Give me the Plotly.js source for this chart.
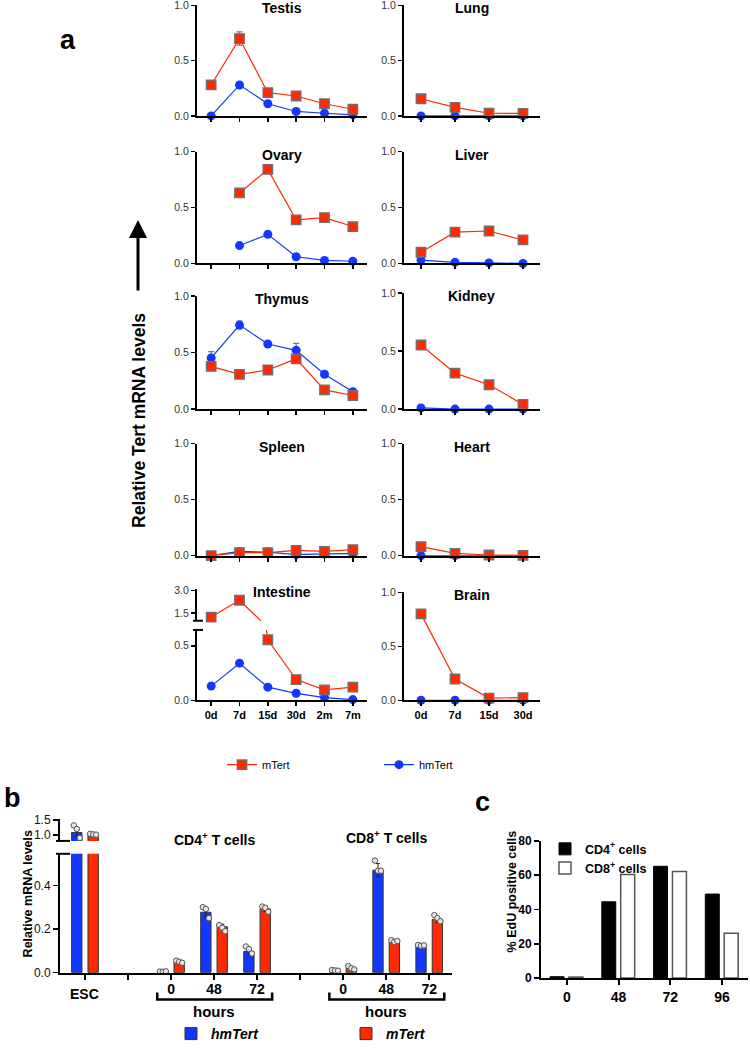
<!DOCTYPE html>
<html>
<head>
<meta charset="utf-8">
<script src="https://cdn.plot.ly/plotly-3.0.1.min.js"></script>
<style>
html, body { margin: 0; padding: 0; background: #fff; overflow: hidden; width: 750px; height: 1050px; }
#chart { position: absolute; left: 0; top: 0; width: 750px; height: 1050px; }
</style>
</head>
<body>
<div id="chart"></div>
<script>
// ---- panel a: relative Tert mRNA by tissue and age ----
const AGES_LONG = ['0d', '7d', '15d', '30d', '2m', '7m'];
const AGES_SHORT = ['0d', '7d', '15d', '30d'];

const TESTIS_M = [0.28, 0.70, 0.21, 0.18, 0.11, 0.06];
const TESTIS_HM = [0.0, 0.28, 0.11, 0.04, 0.024, 0.01];
const TESTIS_M_ERR = [0, 0.06, 0, 0, 0, 0];
const LUNG_M = [0.155, 0.077, 0.024, 0.022];
const LUNG_HM = [0, 0, 0, 0];
const OVARY_M = [null, 0.63, 0.84, 0.39, 0.41, 0.33];
const OVARY_HM = [null, 0.16, 0.26, 0.06, 0.027, 0.02];
const LIVER_M = [0.10, 0.28, 0.29, 0.21];
const LIVER_HM = [0.03, 0.01, 0.005, 0.0];
const THYMUS_M = [0.378, 0.308, 0.346, 0.445, 0.17, 0.12];
const THYMUS_HM = [0.453, 0.744, 0.576, 0.52, 0.308, 0.154];
const THYMUS_HM_ERR = [0.055, 0.035, 0, 0.062, 0.022, 0];
const KIDNEY_M = [0.553, 0.31, 0.21, 0.04];
const KIDNEY_HM = [0.01, 0.0, 0.0, 0.0];
const SPLEEN_M = [0.0, 0.027, 0.027, 0.047, 0.038, 0.053];
const SPLEEN_HM = [0.0, 0.038, 0.032, 0.01, 0.015, 0.018];
const HEART_M = [0.08, 0.02, 0.006, 0.003];
const HEART_HM = [0, 0, 0, 0];
const INTESTINE_M = [1.24, 2.35, 0.555, 0.19, 0.095, 0.12];
const INTESTINE_HM = [0.13, 0.34, 0.12, 0.064, 0.025, 0.006];
const BRAIN_M = [0.80, 0.197, 0.02, 0.025];
const BRAIN_HM = [0, 0, 0, 0];

// ---- panel b: ESC vs activated T cells ----
const B_CATS = ['ESC', 'gap1', 'CD4 0', 'CD4 48', 'CD4 72', 'gap2', 'CD8 0', 'CD8 48', 'CD8 72'];
const B_TICK_LABELS = ['', '', '0', '48', '72', '', '0', '48', '72'];
const B_SAMPLES = ['ESC', 'CD4 0', 'CD4 48', 'CD4 72', 'CD8 0', 'CD8 48', 'CD8 72'];
const B_HM = [1.08, 0.005, 0.277, 0.097, 0.01, 0.47, 0.123];
const B_M = [1.0, 0.051, 0.21, 0.292, 0.02, 0.142, 0.244];
const B_HM_ERR = [0.16, 0.002, 0.02, 0.014, 0.002, 0.03, 0.003];
const B_M_ERR = [0.015, 0.005, 0.012, 0.011, 0.006, 0.004, 0.014];
const B_HM_REPS = [[1.32, 1.2, 0.9], [0.005, 0.004, 0.006], [0.30, 0.292, 0.25], [0.12, 0.108, 0.088],
  [0.012, 0.01, 0.009], [0.514, 0.467, 0.467], [0.127, 0.123, 0.125]];
const B_M_REPS = [[1.04, 1.02, 1.01], [0.055, 0.05, 0.045], [0.218, 0.206, 0.19], [0.303, 0.297, 0.279],
  [0.03, 0.02, 0.015], [0.149, 0.141, 0.145], [0.264, 0.25, 0.236]];

// ---- panel c: EdU incorporation ----
const C_TIMES = ['0', '48', '72', '96'];
const C_CD4 = [0.8, 44.5, 65.2, 49];
const C_CD8 = [0.6, 60.4, 62.1, 26.2];

const W = 750, H = 1050;
const FONT = '"Liberation Sans", Arial, Helvetica, sans-serif';
const RED = '#ff2a00';
const BLUE = '#1238ff';
const fx = p => p / W;
const fy = p => 1 - p / H;

const layout = {
  width: W, height: H,
  margin: { l: 0, r: 0, t: 0, b: 0 },
  paper_bgcolor: '#fff',
  plot_bgcolor: 'rgba(0,0,0,0)',
  font: { family: FONT, color: '#000' },
  showlegend: true,
  annotations: [],
  shapes: [],
};
const data = [];

function axisBase() {
  return {
    showline: true, linecolor: '#000', linewidth: 2,
    ticks: 'outside', tickcolor: '#000', tickwidth: 1.5, ticklen: 4,
    showgrid: false, zeroline: false, fixedrange: true, ticklabeloverflow: 'allow',
  };
}

function setAxes(n, xpx, ypx, xo, yo) {
  const s = n === 1 ? '' : String(n);
  layout['xaxis' + s] = Object.assign(axisBase(),
    { domain: [fx(xpx[0]), fx(xpx[1])], anchor: 'y' + s }, xo);
  layout['yaxis' + s] = Object.assign(axisBase(),
    { domain: [fy(ypx[1]), fy(ypx[0])], anchor: 'x' + s }, yo);
  return { x: 'x' + s, y: 'y' + s };
}

function breakCap(x0, x1, y) {
  layout.shapes.push({
    type: 'line', xref: 'paper', yref: 'paper',
    x0: fx(x0), x1: fx(x1), y0: fy(y), y1: fy(y),
    line: { color: '#000', width: 2 },
  });
}

function label(text, x, y, size, extra) {
  layout.annotations.push(Object.assign({
    text, x, y, xref: 'paper', yref: 'paper', showarrow: false,
    xanchor: 'center', yanchor: 'middle',
    font: { family: FONT, size, color: '#000', weight: 'bold' },
  }, extra));
}

// ---------- panel a ----------
const A_COLS = [[197, 367], [404, 540]];
const A_PANELS = [
  { name: 'Testis', ages: AGES_LONG, m: TESTIS_M, hm: TESTIS_HM, mErr: TESTIS_M_ERR, col: 0, box: [5.5, 117] },
  { name: 'Lung', ages: AGES_SHORT, m: LUNG_M, hm: LUNG_HM, col: 1, box: [5.5, 117] },
  { name: 'Ovary', ages: AGES_LONG, m: OVARY_M, hm: OVARY_HM, col: 0, box: [153, 266] },
  { name: 'Liver', ages: AGES_SHORT, m: LIVER_M, hm: LIVER_HM, col: 1, box: [153, 266] },
  { name: 'Thymus', ages: AGES_LONG, m: THYMUS_M, hm: THYMUS_HM, hmErr: THYMUS_HM_ERR, col: 0, box: [299, 413] },
  { name: 'Kidney', ages: AGES_SHORT, m: KIDNEY_M, hm: KIDNEY_HM, col: 1, box: [296, 413] },
  { name: 'Spleen', ages: AGES_LONG, m: SPLEEN_M, hm: SPLEEN_HM, col: 0, box: [448, 561] },
  { name: 'Heart', ages: AGES_SHORT, m: HEART_M, hm: HEART_HM, col: 1, box: [448, 561] },
  { name: 'Intestine', ages: AGES_LONG, m: INTESTINE_M, hm: INTESTINE_HM, col: 0, box: [636, 707], split: true },
  { name: 'Brain', ages: AGES_SHORT, m: BRAIN_M, hm: BRAIN_HM, col: 1, box: [598, 707] },
];

const yTickFont = { family: FONT, size: 10.5, color: '#333' };

function mMarker() {
  return { symbol: 'square', size: 9.5, color: RED, line: { color: '#707070', width: 1.3 } };
}
function hmMarker() {
  return { symbol: 'circle', size: 9, color: BLUE, line: { color: BLUE, width: 0 } };
}
function errBar(arr) {
  return arr ? { type: 'data', array: arr, visible: true, color: '#777', thickness: 1.2, width: 3 } : undefined;
}

A_PANELS.forEach((p, i) => {
  const last = i >= 8;
  const lowerMax = p.split ? 0.645 : 1.0;
  const ax = setAxes(i + 1, A_COLS[p.col], p.box, {
    type: 'category', categoryorder: 'array', categoryarray: p.ages,
    range: [-0.5, p.ages.length - 0.5],
    showticklabels: last,
    tickfont: { family: FONT, size: 11, color: '#000', weight: 'bold' },
  }, {
    range: [0, lowerMax],
    tickvals: p.split ? [0, 0.5] : [0, 0.5, 1.0],
    tickformat: '.1f',
    tickfont: yTickFont,
  });

  const base = { type: 'scatter', xaxis: ax.x, yaxis: ax.y, x: p.ages, cliponaxis: false, hoverinfo: 'skip' };
  const first = i === 0;
  if (!p.split) {
    data.push(Object.assign({}, base, {
      y: p.hm, name: 'hmTert', mode: 'lines+markers',
      line: { color: BLUE, width: 1.2 }, marker: hmMarker(),
      error_y: errBar(p.hmErr), showlegend: first, legend: 'legend', legendrank: 2,
    }));
    data.push(Object.assign({}, base, {
      y: p.m, name: 'mTert', mode: 'lines+markers',
      line: { color: RED, width: 1.2 }, marker: mMarker(),
      error_y: errBar(p.mErr), showlegend: first, legend: 'legend', legendrank: 1,
    }));
  } else {
    // broken axis: lines clipped by each segment, markers only where in range
    const upperMin = 1.0, upperMax = 3.1;
    const up = setAxes(11, A_COLS[p.col], [594.5, 626.7], {
      type: 'category', categoryorder: 'array', categoryarray: p.ages,
      range: [-0.5, p.ages.length - 0.5], visible: false,
    }, {
      range: [upperMin, upperMax], tickvals: [1.5, 3.0], tickformat: '.1f', tickfont: yTickFont,
    });
    const seg = (a, series, lo, hi, color, marker) => {
      data.push(Object.assign({}, base, {
        xaxis: a.x, yaxis: a.y, y: series, mode: 'lines', cliponaxis: true,
        line: { color, width: 1.2 }, showlegend: false,
      }));
      data.push(Object.assign({}, base, {
        xaxis: a.x, yaxis: a.y, mode: 'markers', marker, showlegend: false,
        y: series.map(v => (v >= lo && v <= hi ? v : null)),
      }));
    };
    seg(ax, p.hm, 0, lowerMax, BLUE, hmMarker());
    seg(ax, p.m, 0, lowerMax, RED, mMarker());
    seg(up, p.m, upperMin, upperMax, RED, mMarker());
    breakCap(193, 203, 626.7);
    breakCap(193, 203, 636);
  }

  const titleTop = p.split ? 594.5 : p.box[0];
  layout.annotations.push({
    text: p.name, xref: ax.x + ' domain', x: 0.5, yref: 'paper', y: fy(titleTop + 3),
    showarrow: false, xanchor: 'center', yanchor: 'middle',
    font: { family: FONT, size: 14, color: '#000', weight: 'bold' },
  });
});

label('a', fx(68), fy(40), 27);
label('Relative Tert mRNA levels', fx(139), fy(425), 17.5, { textangle: -90 });
layout.annotations.push({
  text: '', x: fx(138), y: fy(222), xref: 'paper', yref: 'paper',
  showarrow: true, ax: 0, ay: 72, arrowhead: 2, arrowsize: 1.2, arrowwidth: 3, arrowcolor: '#000',
});

layout.legend = {
  x: fx(222), y: fy(772), xanchor: 'left', yanchor: 'middle',
  orientation: 'h', entrywidth: 112, bgcolor: 'rgba(0,0,0,0)',
  font: { family: FONT, size: 11, color: '#000' }, traceorder: 'normal',
};

// ---------- panel b ----------
const bIdx = B_SAMPLES.map(s => B_CATS.indexOf(s));
const bX = {
  showticklabels: true, tickvals: B_CATS.map((c, k) => k), ticktext: B_TICK_LABELS,
  range: [-0.58, 8.53], ticklen: 5, tickwidth: 2, ticklabelstandoff: -2,
  tickfont: { family: FONT, size: 14, color: '#000', weight: 'bold' },
};
const bTickFont = { family: FONT, size: 12, color: '#111' };
const bLo = setAxes(12, [60, 452], [862, 982], bX,
  { range: [0, 0.545], tickvals: [0, 0.2, 0.4], tickformat: '.1f', tickfont: bTickFont, ticklen: 5 });
const bUp = setAxes(13, [60, 452], [827, 849], Object.assign({}, bX, { visible: false }),
  { range: [0.8, 1.53], tickvals: [1.0, 1.5], tickformat: '.1f', tickfont: bTickFont, ticklen: 5 });
breakCap(56, 70, 849);
breakCap(56, 70, 862);

const BAR_W = 0.24, BAR_SHIFT = 0.19;
function bBars(a, idx, vals, errs, color, shift, name, legendOn) {
  data.push({
    type: 'bar', xaxis: a.x, yaxis: a.y, x: idx, y: vals,
    width: BAR_W, offset: shift - BAR_W / 2, name,
    marker: { color, line: { color: '#333', width: 1 } },
    error_y: { type: 'data', array: errs, visible: true, color: '#222', thickness: 1, width: 2 },
    showlegend: legendOn, legend: 'legend2', hoverinfo: 'skip',
  });
}
function bPoints(a, idx, reps, shift) {
  const JIT = [-0.07, 0.0, 0.07];
  const xs = [], ys = [];
  reps.forEach((r, k) => r.forEach((v, j) => { xs.push(idx[k] + shift + JIT[j]); ys.push(v); }));
  data.push({
    type: 'scatter', mode: 'markers', xaxis: a.x, yaxis: a.y, x: xs, y: ys, cliponaxis: false,
    marker: { size: 5.5, color: '#e4e4e4', line: { color: '#555', width: 1 } },
    showlegend: false, hoverinfo: 'skip',
  });
}
bBars(bLo, bIdx, B_HM, B_HM_ERR, BLUE, -BAR_SHIFT, '<b><i>hmTert</i></b>', true);
bBars(bLo, bIdx, B_M, B_M_ERR, RED, BAR_SHIFT, '<b><i>mTert</i></b>', true);
bBars(bUp, bIdx.slice(0, 1), B_HM.slice(0, 1), B_HM_ERR.slice(0, 1), BLUE, -BAR_SHIFT, 'hm', false);
bBars(bUp, bIdx.slice(0, 1), B_M.slice(0, 1), B_M_ERR.slice(0, 1), RED, BAR_SHIFT, 'm', false);
bPoints(bLo, bIdx.slice(1), B_HM_REPS.slice(1), -BAR_SHIFT);
bPoints(bLo, bIdx.slice(1), B_M_REPS.slice(1), BAR_SHIFT);
bPoints(bUp, bIdx.slice(0, 1), B_HM_REPS.slice(0, 1), -BAR_SHIFT);
bPoints(bUp, bIdx.slice(0, 1), B_M_REPS.slice(0, 1), BAR_SHIFT);

const cd4Mid = B_CATS.indexOf('CD4 48');
const cd8Mid = B_CATS.indexOf('CD8 48');
[cd4Mid, cd8Mid].forEach(mid => {
  layout.shapes.push({
    type: 'path', xref: bLo.x, yref: 'paper',
    path: `M ${mid - 1.32},${fy(1002)} L ${mid - 1.32},${fy(1009)} L ${mid + 1.35},${fy(1009)} L ${mid + 1.35},${fy(1002)}`,
    line: { color: '#000', width: 2.5 },
  });
  layout.annotations.push({
    text: 'hours', xref: bLo.x, x: mid, yref: 'paper', y: fy(1021), showarrow: false,
    yanchor: 'middle', font: { family: FONT, size: 15, color: '#000', weight: 'bold' },
  });
});
layout.annotations.push({
  text: 'CD4<sup>+</sup> T cells', xref: bLo.x, x: cd4Mid, yref: 'paper', y: fy(847), showarrow: false,
  yanchor: 'middle', font: { family: FONT, size: 14, color: '#000', weight: 'bold' },
});
layout.annotations.push({
  text: 'CD8<sup>+</sup> T cells', xref: bLo.x, x: cd8Mid, yref: 'paper', y: fy(845), showarrow: false,
  yanchor: 'middle', font: { family: FONT, size: 14, color: '#000', weight: 'bold' },
});
layout.annotations.push({
  text: 'ESC', xref: bLo.x, x: B_CATS.indexOf('ESC'), yref: 'paper', y: fy(1004), showarrow: false,
  yanchor: 'middle', font: { family: FONT, size: 14, color: '#000', weight: 'bold' },
});
label('b', fx(12), fy(806), 27);
label('Relative mRNA levels', fx(28), fy(903), 12.5, { textangle: -90 });

layout.legend2 = {
  x: fx(171), y: fy(1044), xanchor: 'left', yanchor: 'middle',
  orientation: 'h', entrywidth: 130, bgcolor: 'rgba(0,0,0,0)',
  font: { family: FONT, size: 14, color: '#000' }, traceorder: 'normal',
};

// ---------- panel c ----------
const cAx = setAxes(14, [541, 748], [849, 987.5], {
  type: 'category', categoryorder: 'array', categoryarray: C_TIMES, range: [-0.5, 3.5],
  ticklen: 5, tickwidth: 2,
  tickfont: { family: FONT, size: 14, color: '#000', weight: 'bold' },
}, {
  range: [0, 80], dtick: 20, ticklen: 5,
  tickfont: { family: FONT, size: 12, color: '#000', weight: 'bold' },
});
const C_W = 0.27;
data.push({
  type: 'bar', xaxis: cAx.x, yaxis: cAx.y, x: C_TIMES, y: C_CD4,
  width: C_W, offset: -0.19 - C_W / 2, name: '<b>CD4<sup>+</sup> cells</b>',
  marker: { color: '#000', line: { color: '#000', width: 1 } },
  legend: 'legend3', hoverinfo: 'skip',
});
data.push({
  type: 'bar', xaxis: cAx.x, yaxis: cAx.y, x: C_TIMES, y: C_CD8,
  width: C_W, offset: 0.175 - C_W / 2, name: '<b>CD8<sup>+</sup> cells</b>',
  marker: { color: '#fff', line: { color: '#555', width: 1.5 } },
  legend: 'legend3', hoverinfo: 'skip',
});
label('c', fx(482), fy(810), 27);
label('% EdU positive cells', fx(512), fy(900), 12.5, { textangle: -90 });

layout.legend3 = {
  x: fx(545), y: fy(867), xanchor: 'left', yanchor: 'middle',
  orientation: 'v', bgcolor: 'rgba(0,0,0,0)', tracegroupgap: 0,
  font: { family: FONT, size: 12.5, color: '#000' }, traceorder: 'normal',
};

Plotly.newPlot('chart', data, layout, { displayModeBar: false, staticPlot: true });
</script>
</body>
</html>
